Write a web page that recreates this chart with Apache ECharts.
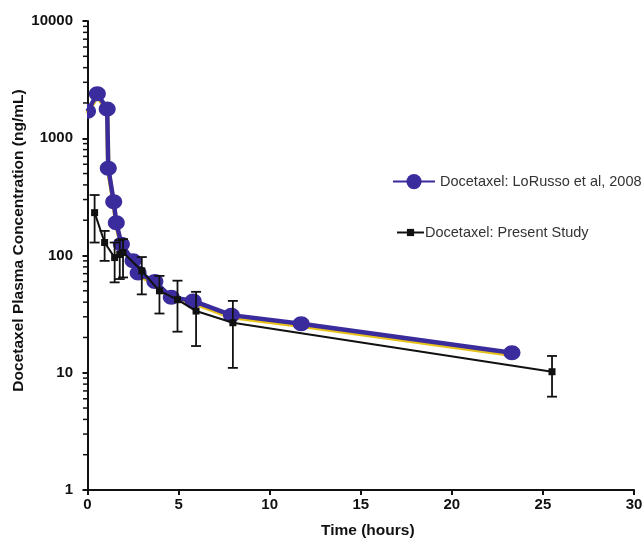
<!DOCTYPE html>
<html>
<head>
<meta charset="utf-8">
<script src="https://cdn.jsdelivr.net/npm/echarts@6/dist/echarts.min.js"></script>
<style>
  html, body { margin: 0; padding: 0; background: #ffffff; }
  #chart { width: 644px; height: 538px; }
</style>
</head>
<body>
<div id="chart"></div>
<script>
// Docetaxel plasma concentration-time profiles
const loRussoHours = [0, 0.54, 1.08, 1.14, 1.44, 1.58, 1.86, 2.5, 2.78, 3.7, 4.6, 5.8, 7.9, 11.73, 23.3];
const loRussoConc  = [1700, 2400, 1780, 555, 288, 190, 125, 90, 71, 60, 44, 41, 31, 26.2, 14.8];

const presentHours = [0.39, 0.94, 1.49, 1.77, 1.95, 2.98, 3.95, 4.94, 5.96, 7.98, 25.5];
const presentConc  = [232, 129, 96, 102, 106, 74, 50, 42, 33.6, 26.7, 10.2];
const presentLow   = [129, 90, 59, 63, 65, 46.6, 32, 22.4, 16.9, 11, 6.25];
const presentHigh  = [328, 162, 129, 135, 138, 97, 67, 61, 49, 41, 13.9];

const xTickLabels = [0, 5, 10, 15, 20, 25, 30];
const yTickLabels = [1, 10, 100, 1000, 10000];

const LORUSSO = 'Docetaxel: LoRusso et al, 2008';
const PRESENT = 'Docetaxel: Present Study';

const FONT = '"Liberation Sans", Arial, Helvetica, sans-serif';
const BLUE = '#3a2c9c';
const BLACK = '#111111';

// minor log ticks (2..9 within each decade of the y axis)
const minorTickValues = [];
for (let d = 0; d < yTickLabels.length - 1; d++) {
  for (let k = 2; k <= 9; k++) minorTickValues.push(k * yTickLabels[d]);
}

const loRussoData = loRussoHours.map((t, i) => [t, loRussoConc[i]]);
const presentData = presentHours.map((t, i) => [t, presentConc[i]]);
const errorData = presentHours.map((t, i) => [t, presentLow[i], presentHigh[i]]);

const chart = echarts.init(document.getElementById('chart'), null, { renderer: 'canvas' });

chart.setOption({
  animation: false,
  backgroundColor: '#ffffff',
  textStyle: { fontFamily: FONT },
  grid: { left: 87.5, right: 10, top: 21, bottom: 48, containLabel: false, outerBoundsMode: 'none' },
  legend: [
    {
      data: [LORUSSO],
      left: 392, top: 174, padding: 0,
      itemWidth: 42, itemHeight: 19, itemGap: 0,
      textStyle: { fontFamily: FONT, fontSize: 14.5, color: '#333333', padding: [0, 0, 0, 0] },
      selectedMode: false
    },
    {
      data: [PRESENT],
      left: 396, top: 225, padding: 0,
      itemWidth: 27, itemHeight: 9, itemGap: 0,
      textStyle: { fontFamily: FONT, fontSize: 14.5, color: '#333333', padding: [0, 0, 0, -4] },
      selectedMode: false
    }
  ],
  xAxis: {
    type: 'value',
    min: 0, max: 30, interval: 5,
    name: 'Time (hours)',
    nameLocation: 'middle',
    nameGap: 33,
    nameMoveOverlap: false,
    nameTextStyle: { fontFamily: FONT, fontSize: 15.5, fontWeight: 'bold', color: '#111', padding: [0, 0, 0, 14] },
    axisLine: { show: true, onZero: false, lineStyle: { color: '#111', width: 2 } },
    axisTick: { show: true, inside: false, length: 5, lineStyle: { color: '#111', width: 2 } },
    axisLabel: {
      margin: 7, fontFamily: FONT, fontSize: 15, fontWeight: 'bold', color: '#111',
      formatter: v => (xTickLabels.indexOf(v) >= 0 ? String(v) : '')
    },
    splitLine: { show: false }
  },
  yAxis: {
    type: 'log',
    logBase: 10,
    min: 1, max: 10000,
    name: 'Docetaxel Plasma Concentration (ng/mL)',
    nameLocation: 'middle',
    nameGap: 61,
    nameRotate: 90,
    nameMoveOverlap: false,
    nameTextStyle: { fontFamily: FONT, fontSize: 15.5, fontWeight: 'bold', color: '#111', padding: [0, 0, 0, 30] },
    axisLine: { show: true, lineStyle: { color: '#111', width: 2 } },
    axisTick: { show: true, inside: false, length: 5, lineStyle: { color: '#111', width: 2 } },
    axisLabel: {
      margin: 14.5, fontFamily: FONT, fontSize: 15, fontWeight: 'bold', color: '#111',
      formatter: v => (yTickLabels.indexOf(Math.round(v)) >= 0 ? String(Math.round(v)) : '')
    },
    splitLine: { show: false },
    minorTick: { show: false }
  },
  series: [
    {
      // minor ticks of the log axis
      type: 'custom',
      silent: true,
      clip: false,
      data: minorTickValues.map(v => [0, v]),
      renderItem: function (params, api) {
        const p = api.coord([0, api.value(1)]);
        return {
          type: 'line',
          shape: { x1: p[0] - 4.5, y1: p[1], x2: p[0], y2: p[1] },
          style: { stroke: '#111', lineWidth: 1.5 }
        };
      },
      z: 1
    },
    {
      name: LORUSSO,
      type: 'line',
      data: loRussoData,
      symbol: 'circle',
      symbolSize: [17, 15],
      showSymbol: false,
      itemStyle: { color: BLUE },
      lineStyle: {
        color: BLUE, width: 4.5,
        shadowColor: '#e8c21a', shadowBlur: 0, shadowOffsetX: 0, shadowOffsetY: 2
      },
      clip: true,
      z: 2
    },
    {
      // LoRusso markers, clipped to the plotting area
      name: LORUSSO,
      type: 'custom',
      clip: true,
      data: loRussoData,
      renderItem: function (params, api) {
        const p = api.coord([api.value(0), api.value(1)]);
        return {
          type: 'ellipse',
          shape: { cx: p[0], cy: p[1], rx: 8.5, ry: 7.5 },
          style: { fill: BLUE }
        };
      },
      z: 3
    },
    {
      // error bars of the present study
      type: 'custom',
      clip: false,
      silent: true,
      data: errorData,
      renderItem: function (params, api) {
        const x = api.value(0);
        const lo = api.coord([x, api.value(1)]);
        const hi = api.coord([x, api.value(2)]);
        const cap = 5;
        const st = { stroke: BLACK, lineWidth: 1.8 };
        return {
          type: 'group',
          children: [
            { type: 'line', shape: { x1: lo[0], y1: lo[1], x2: hi[0], y2: hi[1] }, style: st },
            { type: 'line', shape: { x1: lo[0] - cap, y1: lo[1], x2: lo[0] + cap, y2: lo[1] }, style: st },
            { type: 'line', shape: { x1: hi[0] - cap, y1: hi[1], x2: hi[0] + cap, y2: hi[1] }, style: st }
          ]
        };
      },
      z: 4
    },
    {
      name: PRESENT,
      type: 'line',
      data: presentData,
      symbol: 'rect',
      symbolSize: 7,
      showSymbol: true,
      itemStyle: { color: BLACK },
      lineStyle: { color: BLACK, width: 2 },
      z: 5
    }
  ]
});
</script>
</body>
</html>
